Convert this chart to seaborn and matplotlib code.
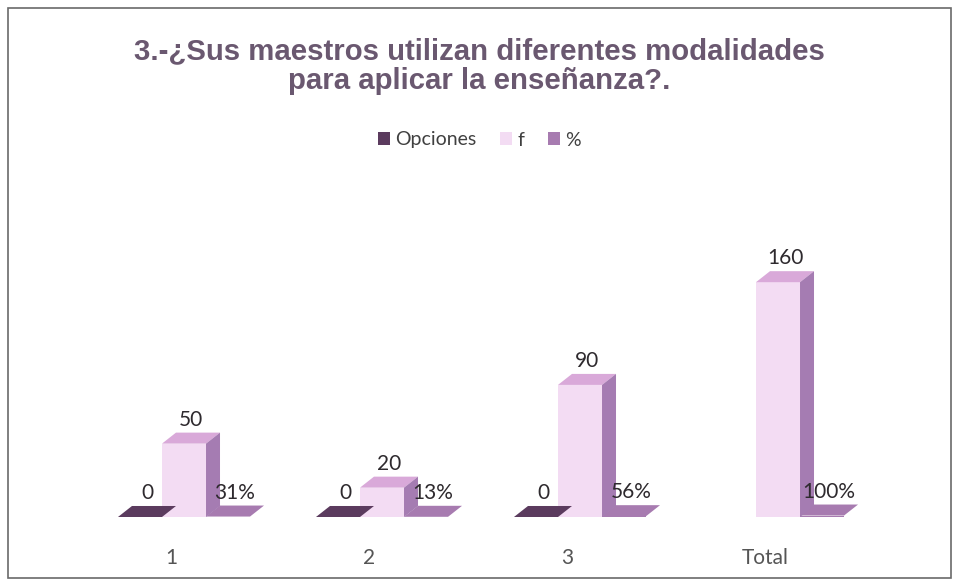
import numpy as np
import pandas as pd
import matplotlib.pyplot as plt
import matplotlib.transforms as mtransforms
from matplotlib.patches import Polygon, Patch, Rectangle
import seaborn as sns

categorias = ["1", "2", "3", "Total"]
opciones = [0, 0, 0, np.nan]
frecuencia = [50, 20, 90, 160]
porcentaje = [0.31, 0.13, 0.56, 1.00]
series = ["Opciones", "f", "%"]

colores = {"Opciones": "#5b3b5e", "f": "#f3dcf3", "%": "#a77bb0"}
techo = {"Opciones": "#5b3b5e", "f": "#d9a9d9", "%": "#a77bb0"}
lado = {"Opciones": "#4a2f4d", "f": "#a57cb2", "%": "#8e6498"}

df = pd.DataFrame({
    "categoria": categorias * 3,
    "serie": [s for s in series for _ in categorias],
    "valor": opciones + frecuencia + porcentaje,
})

sns.set_style("white")
plt.rcParams['font.family'] = ['Lato', 'DejaVu Sans']

fig = plt.figure(figsize=(9.59, 5.86), dpi=100)
ax = fig.add_axes([85 / 959, 69 / 586, 792 / 959, 317 / 586])

sns.barplot(data=df, x="categoria", y="valor", hue="serie", hue_order=series,
            order=categorias, palette=colores, width=0.667, gap=0,
            legend=False, ax=ax, edgecolor="none", saturation=1)

ax.set_xlim(-0.5, 3.5)
ax.set_ylim(0, 216)
dx, dy = 0.0707, 7.5

# fake 3d: top and side faces from each bar's geometry
for cont, s in zip(ax.containers, series):
    for bar, v in zip(cont.patches, cont.datavalues):
        if np.isnan(v):
            continue
        x0, w, h = bar.get_x(), bar.get_width(), bar.get_height()
        top = Polygon([(x0, h), (x0 + w, h), (x0 + w + dx, h + dy), (x0 + dx, h + dy)],
                      closed=True, fc=techo[s], ec="none", zorder=3)
        ax.add_patch(top)
        if h > 1:
            side = Polygon([(x0 + w, 0), (x0 + w + dx, dy), (x0 + w + dx, h + dy), (x0 + w, h)],
                           closed=True, fc=lado[s], ec="none", zorder=4)
            ax.add_patch(side)
        if s == "%":
            txt = f"{v * 100:.0f}%"
        else:
            txt = f"{v:.0f}"
        ax.text(x0 + w / 2 + dx / 2, h + dy + 2, txt, ha="center", va="bottom",
                fontsize=15, color="#2e2a2e", zorder=6)

sns.despine(ax=ax, left=True, bottom=True)
ax.set_yticks([])
ax.set_xlabel("")
ax.set_ylabel("")
ax.tick_params(axis="x", length=0, pad=22, labelsize=15, labelcolor="#555555")
off = mtransforms.ScaledTranslation(-13 / 100, 0, fig.dpi_scale_trans)
for lab in ax.get_xticklabels():
    lab.set_transform(lab.get_transform() + off)

fig.text(0.5, 1 - 66 / 586, "3.-¿Sus maestros utilizan diferentes modalidades\npara aplicar la enseñanza?.",
         ha="center", va="center", fontsize=21.2, fontweight="bold",
         family=["Liberation Sans", "DejaVu Sans"], color="#6a5870", linespacing=1.1)

handles = [Patch(facecolor=colores[s], edgecolor="none") for s in series]
fig.legend(handles, series, loc="center", bbox_to_anchor=(0.5, 1 - 140 / 586), ncol=3,
           frameon=False, fontsize=14, handlelength=0.6, handleheight=0.6,
           handletextpad=0.3, columnspacing=1.2, labelcolor="#404040")

fig.patches.append(Rectangle((8 / 959, 8 / 586), 943 / 959, 570 / 586, transform=fig.transFigure,
                             fill=False, ec="#6a6a6a", lw=1.2))

plt.savefig("out.png", dpi=100)
